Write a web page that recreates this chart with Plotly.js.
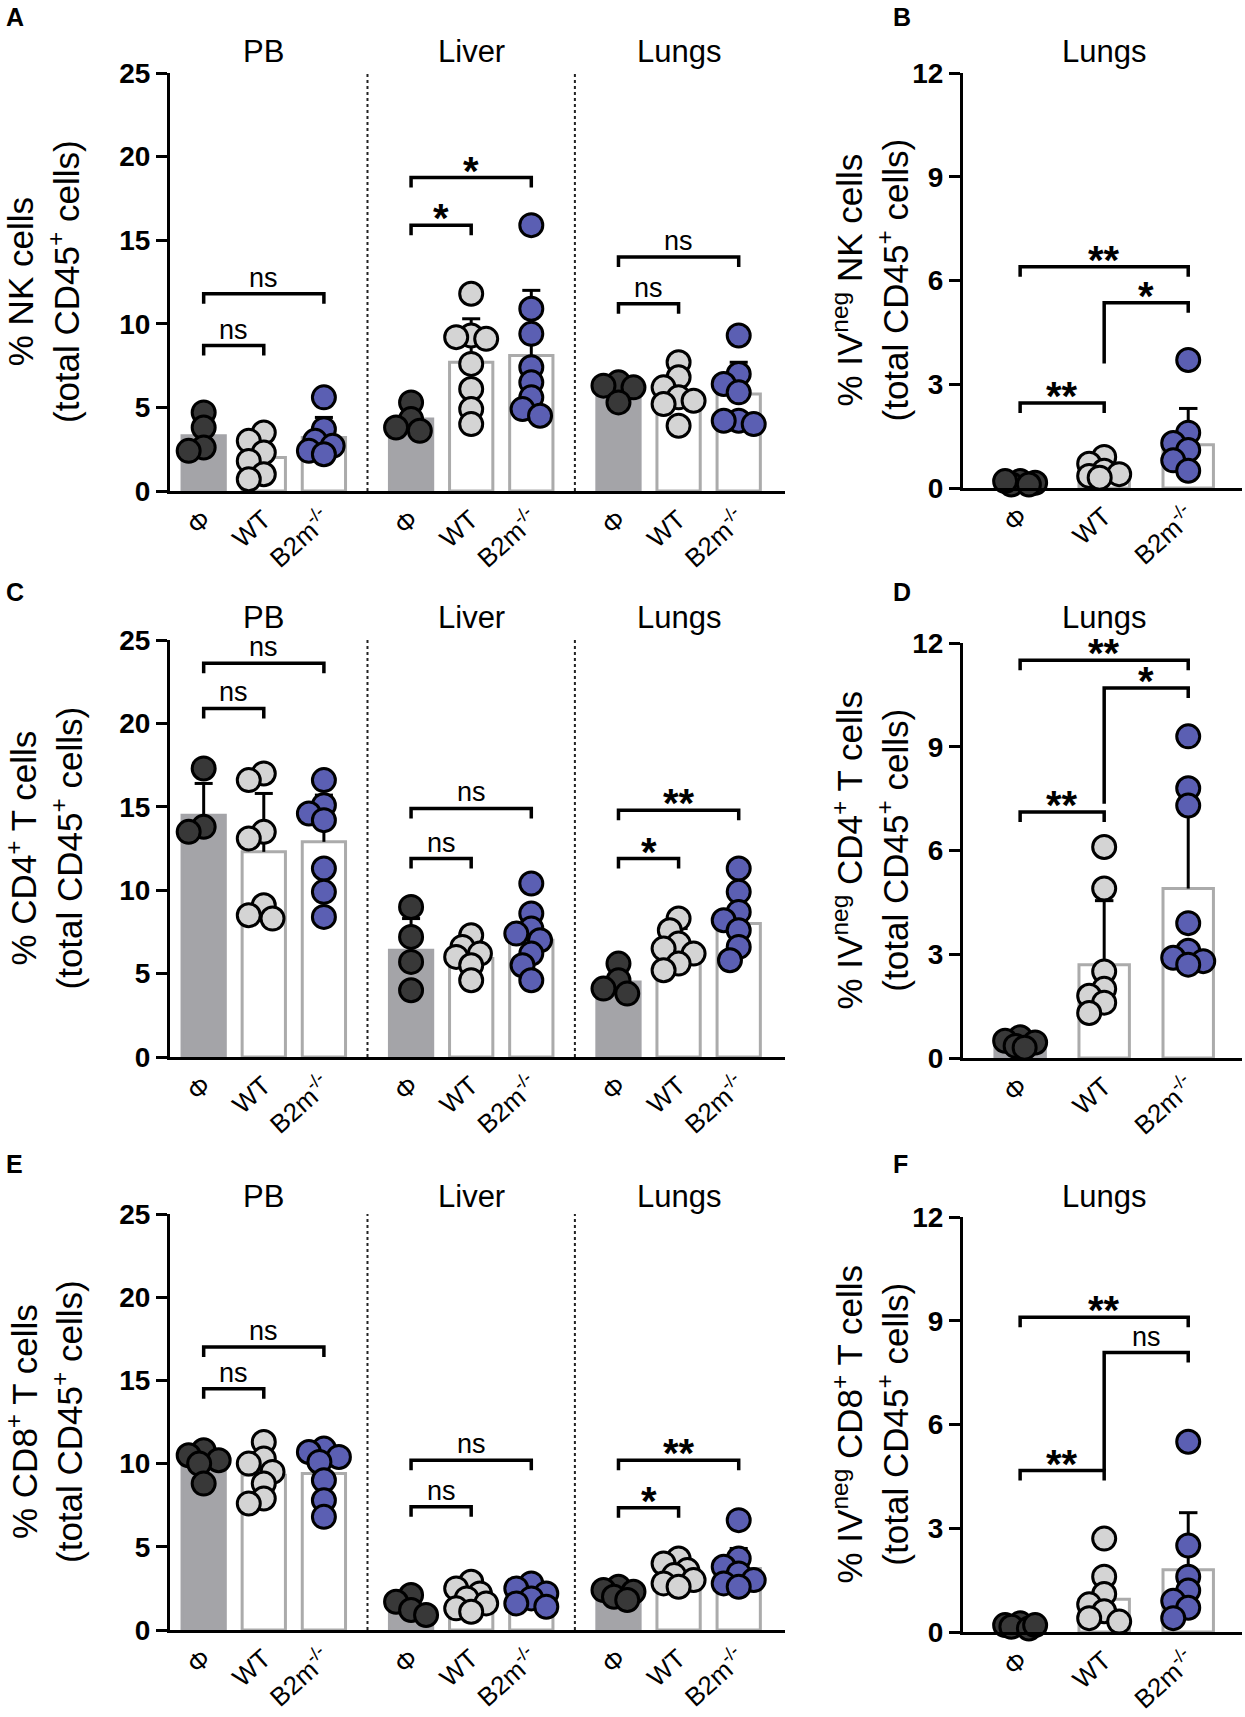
<!DOCTYPE html>
<html><head><meta charset="utf-8">
<script src="https://cdn.plot.ly/plotly-3.0.1.min.js"></script>
<style>html,body{margin:0;padding:0;background:#fff}</style>
</head><body><div id="chart" style="width:1245px;height:1717px"></div>
<script>
// ---------- DATA ----------
const catLabels = ['Φ','WT','B2m<sup>-/-</sup>'];
const groupNames = ['PB','Liver','Lungs'];

// Panel A: % NK cells (PB Φ,WT,B2m | Liver Φ,WT,B2m | Lungs Φ,WT,B2m)
const nkPoints = [
  [4.7,3.8,2.6,2.4],
  [3.5,3.0,2.3,1.8,1.0,0.7],
  [5.6,3.7,3.0,2.7,2.4,2.2],
  [5.3,4.3,3.8,3.6],
  [11.8,9.3,9.2,9.1,7.6,6.1,4.9,4.0],
  [15.9,10.9,9.4,7.4,6.5,5.6,4.9,4.5],
  [6.5,6.3,6.2,5.3],
  [7.7,6.8,6.2,5.6,5.4,5.2,3.9],
  [9.3,7.0,6.4,5.9,4.2,4.2,4.0]
];
const nkMean = [3.3,2.0,3.2, 4.3,7.7,8.1, 5.9,5.7,5.8];
const nkSD   = [1.0,1.2,1.2, 0.7,2.6,3.9, 0.5,1.1,1.9];
const nkSig  = [[0,1,8.7,'ns'],[0,2,11.8,'ns'],[3,4,15.9,'*'],[3,5,18.75,'*'],[6,7,11.2,'ns'],[6,8,14.0,'ns']];

// Panel B: % IVneg NK cells (Lungs)
const ivNkPoints = [
  [0.2,0.15,0.1,0.1,0.2],
  [0.9,0.7,0.5,0.4,0.35,0.3],
  [3.7,1.6,1.3,1.1,0.8,0.5]
];
const ivNkMean = [0.12,0.45,1.25];
const ivNkSD   = [0.05,0.25,1.05];
const ivNkSig  = [[0,1,2.46,'**'],[0,2,6.4,'**'],[1,2,5.36,'*',3.6]];

// Panel C: % CD4+ T cells
const cd4Points = [
  [17.3,13.8,13.5],
  [17.0,16.6,13.5,13.1,9.1,8.5,8.3],
  [16.6,15.1,14.6,14.2,11.3,9.9,8.4],
  [9.0,7.2,5.7,4.0],
  [7.3,6.6,6.2,6.0,5.5,4.6],
  [10.4,8.6,7.7,7.4,7.0,6.2,5.5,4.6],
  [5.6,4.6,4.1,3.8],
  [8.3,7.6,6.8,6.5,6.2,5.6,5.2],
  [11.3,9.9,8.7,8.2,7.6,6.6,5.8]
];
const cd4Mean = [14.5,12.3,12.9, 6.4,5.9,7.0, 4.5,6.7,8.0];
const cd4SD   = [1.9,3.5,2.8, 1.9,0.9,1.8, 0.7,1.0,1.8];
const cd4Sig  = [[0,1,20.9,'ns'],[0,2,23.6,'ns'],[3,4,11.9,'ns'],[3,5,14.9,'ns'],[6,7,11.9,'*'],[6,8,14.8,'**']];

// Panel D: % IVneg CD4+ T cells (Lungs)
const ivCd4Points = [
  [0.6,0.5,0.45,0.35,0.3],
  [6.1,4.9,2.5,2.0,1.8,1.6,1.3],
  [9.3,7.8,7.3,3.9,3.1,2.9,2.8,2.7]
];
const ivCd4Mean = [0.45,2.7,4.9];
const ivCd4SD   = [0.12,1.85,2.6];
const ivCd4Sig  = [[0,1,7.11,'**'],[0,2,11.5,'**'],[1,2,10.7,'*',7.35]];

// Panel E: % CD8+ T cells
const cd8Points = [
  [10.8,10.5,10.2,10.0,8.8],
  [11.3,10.3,10.0,9.5,8.8,7.9,7.6],
  [10.9,10.7,10.4,10.1,9.0,7.8,6.8],
  [2.1,1.7,1.2,0.9],
  [2.9,2.5,2.2,1.9,1.6,1.3,1.1],
  [2.8,2.5,2.2,1.9,1.6,1.4],
  [2.6,2.4,2.3,2.0,1.8],
  [4.3,4.0,3.6,3.3,3.0,2.8,2.6],
  [6.6,4.3,3.8,3.4,3.0,2.8,2.6]
];
const cd8Mean = [9.9,9.3,9.4, 1.4,1.9,2.0, 2.2,3.4,3.7];
const cd8SD   = [0.8,1.3,1.5, 0.5,0.6,0.5, 0.3,0.6,1.2];
const cd8Sig  = [[0,1,14.5,'ns'],[0,2,17.0,'ns'],[3,4,7.4,'ns'],[3,5,10.2,'ns'],[6,7,7.35,'*'],[6,8,10.2,'**']];

// Panel F: % IVneg CD8+ T cells (Lungs)
const ivCd8Points = [
  [0.25,0.2,0.15,0.1,0.2],
  [2.7,1.6,1.1,0.8,0.6,0.4,0.3],
  [5.5,2.5,1.6,1.2,0.9,0.7,0.4]
];
const ivCd8Mean = [0.15,0.95,1.8];
const ivCd8SD   = [0.05,0.8,1.65];
const ivCd8Sig  = [[0,1,4.67,'**'],[0,2,9.1,'**'],[1,2,8.08,'ns',4.67]];

// ---------- LAYOUT HELPERS ----------
const W = 1245, H = 1717;
const FONT = 'Liberation Sans, Arial, sans-serif';
const posL = [0,1,2,3.45,4.45,5.45,6.9,7.9,8.9];
const posR = [0,1,2];
const rangeL = [-0.56, 9.67], rangeR = [-0.68, 2.64];
const ptFill = ['#383838','#d4d4d4','#5b5fb3'];
const barFill = ['#a4a4a8','#ffffff','#ffffff'];
const barLine = ['#a4a4a8','#ababab','#ababab'];

const panels = [
  {letter:'A', wide:true,  px:[170,785], py:[73,491],  ymax:25, dtick:5, pts:nkPoints, mean:nkMean, sd:nkSD, sig:nkSig,
   title:'% NK cells<br>(total CD45<sup>+</sup> cells)', titleRow:52, letterY:17},
  {letter:'B', wide:false, px:[963,1242], py:[73,488], ymax:12, dtick:3, pts:ivNkPoints, mean:ivNkMean, sd:ivNkSD, sig:ivNkSig,
   title:'% IV<sup>neg</sup> NK cells<br>(total CD45<sup>+</sup> cells)', titleRow:52, letterY:17},
  {letter:'C', wide:true,  px:[170,785], py:[640,1057], ymax:25, dtick:5, pts:cd4Points, mean:cd4Mean, sd:cd4SD, sig:cd4Sig,
   title:'% CD4<sup>+</sup> T cells<br>(total CD45<sup>+</sup> cells)', titleRow:617, letterY:592},
  {letter:'D', wide:false, px:[963,1242], py:[643,1058], ymax:12, dtick:3, pts:ivCd4Points, mean:ivCd4Mean, sd:ivCd4SD, sig:ivCd4Sig,
   title:'% IV<sup>neg</sup> CD4<sup>+</sup> T cells<br>(total CD45<sup>+</sup> cells)', titleRow:617, letterY:592},
  {letter:'E', wide:true,  px:[170,785], py:[1214,1630], ymax:25, dtick:5, pts:cd8Points, mean:cd8Mean, sd:cd8SD, sig:cd8Sig,
   title:'% CD8<sup>+</sup> T cells<br>(total CD45<sup>+</sup> cells)', titleRow:1196, letterY:1164},
  {letter:'F', wide:false, px:[963,1242], py:[1217,1632], ymax:12, dtick:3, pts:ivCd8Points, mean:ivCd8Mean, sd:ivCd8SD, sig:ivCd8Sig,
   title:'% IV<sup>neg</sup> CD8<sup>+</sup> T cells<br>(total CD45<sup>+</sup> cells)', titleRow:1196, letterY:1164}
];

// deterministic compact swarm offsets (layout only)
function swarm(vals, xc, pxX, pxY, diam) {
  const idx = vals.map((v,i)=>i).sort((a,b)=>vals[b]-vals[a]);
  const placed = []; const xs = new Array(vals.length);
  const cands = [0,-0.35,0.35,-0.6,0.6,-0.18,0.18].map(f=>f*diam);
  for (const i of idx) {
    let best = 0, bestD = -1;
    for (const c of cands) {
      let m = Infinity;
      for (const p of placed) { const d = Math.hypot(c-p.x, (vals[i]-p.v)*pxY); if (d<m) m=d; }
      if (m >= 0.55*diam) { best=c; bestD=m; break; }
      if (m > bestD) { bestD=m; best=c; }
    }
    placed.push({x:best, v:vals[i]}); xs[i] = xc + best/pxX;
  }
  return xs;
}

const traces = [], shapes = [], annotations = [];
const layout = {width:W, height:H, autosize:false, margin:{l:0,r:0,t:0,b:0},
  paper_bgcolor:'#fff', plot_bgcolor:'rgba(0,0,0,0)', showlegend:false,
  font:{family:FONT, color:'#000'}};

panels.forEach((p, k) => {
  const n = k+1;
  const xid = n===1 ? 'x' : 'x'+n, yid = n===1 ? 'y' : 'y'+n;
  const xkey = n===1 ? 'xaxis' : 'xaxis'+n, ykey = n===1 ? 'yaxis' : 'yaxis'+n;
  const pos = p.wide ? posL : posR;
  const range = p.wide ? rangeL : rangeR;
  const pxX = (p.px[1]-p.px[0])/(range[1]-range[0]);
  const pxY = (p.py[1]-p.py[0])/p.ymax;
  const barW = p.wide ? 0.72 : 0.6;
  const capW = p.wide ? 0.15 : 0.11;
  const cat = pos.map((_,i)=>i%3);

  layout[xkey] = {domain:[p.px[0]/W, p.px[1]/W], range:range, anchor:yid,
    showline:true, linecolor:'#000', linewidth:3, ticks:'', showgrid:false, zeroline:false,
    tickmode:'array', tickvals:pos, ticktext:cat.map(c=>catLabels[c]), tickangle:-42,
    tickfont:{family:FONT, size:26, color:'#000'}, fixedrange:true};
  layout[ykey] = {domain:[1-p.py[1]/H, 1-p.py[0]/H], range:[0,p.ymax], anchor:xid,
    showline:true, linecolor:'#000', linewidth:3, ticks:'outside', ticklen:11, tickwidth:3, tickcolor:'#000',
    dtick:p.dtick, tick0:0, showgrid:false, zeroline:false,
    tickfont:{family:FONT, size:28, color:'#000', weight:'bold'}, fixedrange:true};

  // bars (mean)
  traces.push({type:'bar', x:pos, y:p.mean, width:barW, xaxis:xid, yaxis:yid,
    marker:{color:cat.map(c=>barFill[c]), line:{color:cat.map(c=>barLine[c]), width:3}}, hoverinfo:'skip'});
  // error bars (mean + SD, upper only)
  const ex = [], ey = [];
  pos.forEach((x,i)=>{ const top = p.mean[i]+p.sd[i];
    ex.push(x, x, null, x-capW, x+capW, null); ey.push(p.mean[i], top, null, top, top, null); });
  traces.push({type:'scatter', mode:'lines', x:ex, y:ey, xaxis:xid, yaxis:yid,
    line:{color:'#000', width:3}, hoverinfo:'skip', cliponaxis:false});
  // individual points
  p.pts.forEach((vals, i) => {
    traces.push({type:'scatter', mode:'markers', x:swarm(vals, pos[i], pxX, pxY, 25), y:vals,
      xaxis:xid, yaxis:yid, cliponaxis:false, hoverinfo:'y',
      marker:{size:23, color:ptFill[cat[i]], line:{color:'#000', width:3}}});
  });
  // separators & group titles
  if (p.wide) {
    [(pos[2]+pos[3])/2, (pos[5]+pos[6])/2].forEach(sx => shapes.push({type:'line', xref:xid, yref:yid,
      x0:sx, x1:sx, y0:0, y1:p.ymax, line:{color:'#222', width:2, dash:'dot'}}));
    groupNames.forEach((g, gi) => annotations.push({text:g, xref:xid, x:pos[gi*3+1], yref:'paper',
      y:1-p.titleRow/H, yanchor:'middle', showarrow:false, font:{family:FONT, size:31, color:'#000'}}));
  } else {
    annotations.push({text:'Lungs', xref:xid, x:pos[1], yref:'paper', y:1-p.titleRow/H, yanchor:'middle',
      showarrow:false, font:{family:FONT, size:31, color:'#000'}});
  }
  // significance brackets
  const tick = 10/pxY;
  p.sig.forEach(s => {
    const x0 = pos[s[0]], x1 = pos[s[1]], y = s[2];
    const leftLow = (s.length > 4) ? s[4] : y - tick;
    shapes.push({type:'path', xref:xid, yref:yid, line:{color:'#000', width:3.5},
      path:`M${x0},${leftLow} L${x0},${y} L${x1},${y} L${x1},${y-tick}`});
    const star = s[3] !== 'ns';
    annotations.push({text:s[3], xref:xid, yref:yid, x:(x0+x1)/2, y:y, yanchor:'bottom',
      yshift: star ? -17 : -1, showarrow:false,
      font:{family:FONT, size: star ? 40 : 27, color:'#000', weight: star ? 'bold' : 'normal'}});
  });
  // y-axis title
  annotations.push({text:p.title, xref:'paper', yref:'paper', x:(p.wide ? 44 : 870)/W,
    y:1-(p.py[0]+p.py[1])/2/H, xanchor:'center', yanchor:'middle', textangle:-90, showarrow:false,
    font:{family:FONT, size:35, color:'#000'}});
  // panel letter
  annotations.push({text:'<b>'+p.letter+'</b>', xref:'paper', yref:'paper',
    x:(p.wide ? 4 : 891)/W, y:1-p.letterY/H, xanchor:'left', yanchor:'middle', showarrow:false,
    font:{family:FONT, size:25, color:'#000'}});
});

layout.shapes = shapes;
layout.annotations = annotations;
Plotly.newPlot('chart', traces, layout, {staticPlot:true, displayModeBar:false});
</script>
</body></html>
